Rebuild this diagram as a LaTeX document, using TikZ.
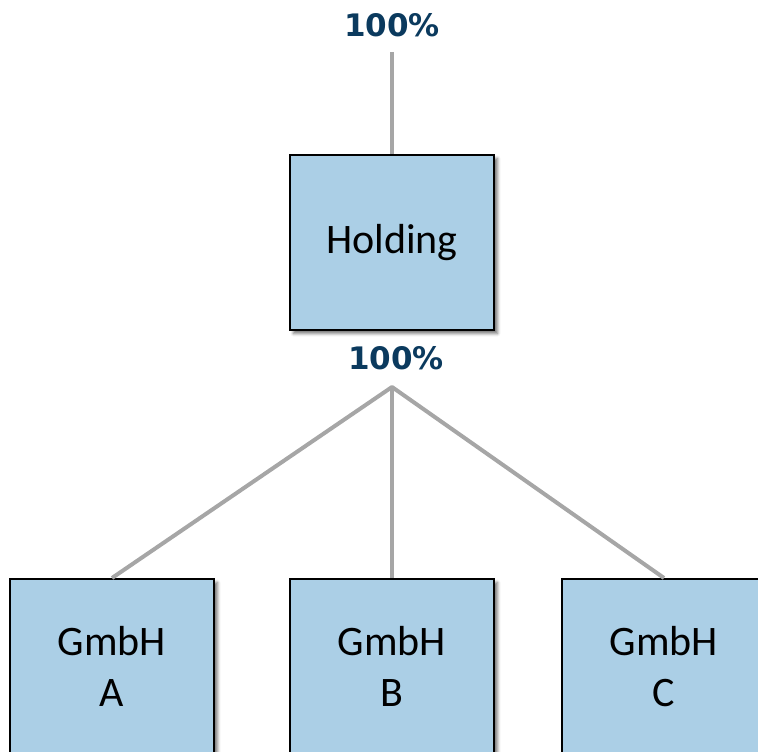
\documentclass[tikz,border=0pt]{standalone}
\usepackage{fontspec}
\setmainfont{Carlito}
\newfontfamily\pctfont{DejaVu Sans}
\usetikzlibrary{shadows.blur}
\definecolor{boxfill}{HTML}{ABCFE6}
\definecolor{linegray}{HTML}{A6A6A6}
\definecolor{navy}{HTML}{0B3A5E}
\begin{document}
\begin{tikzpicture}[x=1pt,y=-1pt,
  entity/.style={draw=black, line width=2pt, fill=boxfill, minimum width=204pt, minimum height=175pt,
    align=center, font=\fontsize{42}{51}\selectfont,
    blur shadow={shadow xshift=3.5pt, shadow yshift=-3.5pt, shadow blur radius=3pt, shadow opacity=55}},
  pct/.style={text=navy, font=\pctfont\bfseries\fontsize{31}{38}\selectfont, inner sep=0pt},
  conn/.style={draw=linegray, line width=4pt, line join=round}]
\useasboundingbox (0,0) rectangle (758,752);
\node[pct] (toplbl) at (392,25) {100\%};
\coordinate (topend) at (392,52);
\node[pct] (botlbl) at (396,358) {100\%};
\coordinate (apex) at (392,387);
\node[entity] (hold) at (392,242.5) {Holding};
\node[entity] (ga) at (112,666.5) {GmbH\\A};
\node[entity] (gb) at (392,666.5) {GmbH\\B};
\node[entity] (gc) at (664,666.5) {GmbH\\C};
\draw[conn] (topend) -- (hold.north);
\draw[conn] (ga.north) -- (apex) -- (gc.north);
\draw[conn] (apex) -- (gb.north);
\end{tikzpicture}
\end{document}
